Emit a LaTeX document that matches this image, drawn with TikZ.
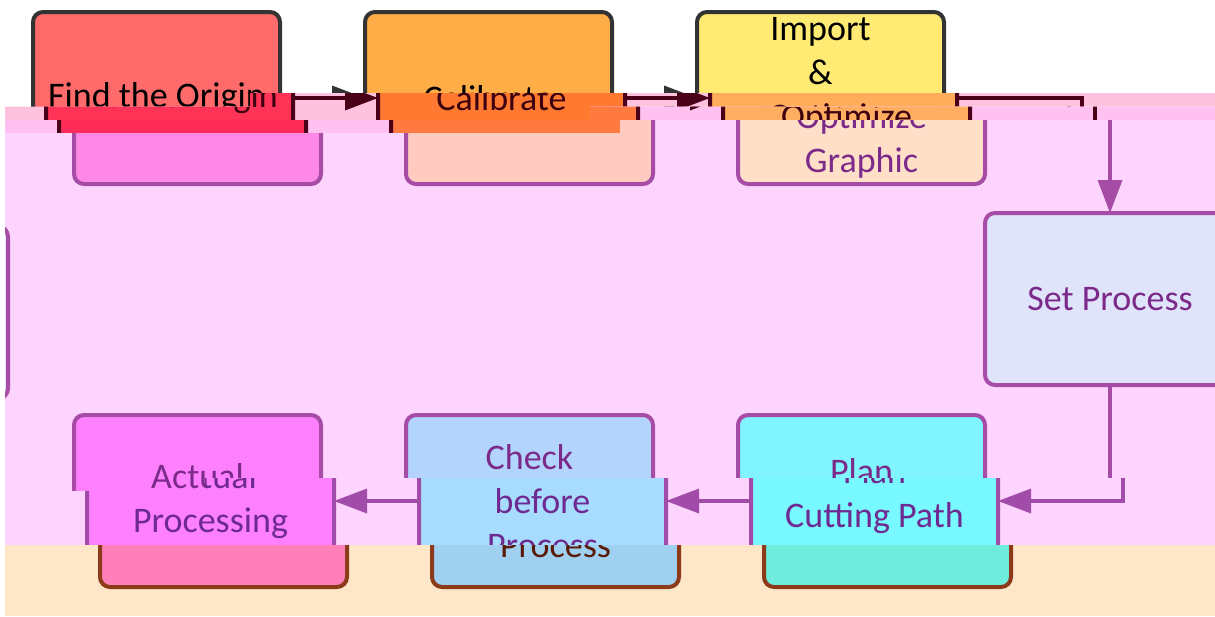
\documentclass[tikz,border=0pt]{standalone}
\usepackage{fontspec}
\setmainfont{Carlito}
\usetikzlibrary{arrows.meta}

% palettes: O original, B, C, E, F, G glitch bands
\newcommand\mkpal[9]{%
  \definecolor{#1bg}{HTML}{#2}\definecolor{#1find}{HTML}{#3}%
  \definecolor{#1cal}{HTML}{#4}\definecolor{#1imp}{HTML}{#5}%
  \definecolor{#1set}{HTML}{#6}\definecolor{#1act}{HTML}{#7}%
  \definecolor{#1chk}{HTML}{#8}\definecolor{#1plan}{HTML}{#9}}
\mkpal{O}{FFFFFF}{FF6B6B}{FFAE47}{FFEB74}{E0E4FB}{FF80FF}{B3D4FD}{80F4FF}
\mkpal{B}{FFC2DE}{FF3355}{FF7A30}{FFAD5A}{E0E4FB}{FF80FF}{B3D4FD}{80F4FF}
\mkpal{C}{FFC2F0}{FF2C5A}{FF7A40}{FFAD60}{E0E4FB}{FF80FF}{B3D4FD}{80F4FF}
\mkpal{E}{FDD4FD}{FF88E6}{FFCBC0}{FFDFC8}{E0E4FB}{FF80FF}{B3D4FD}{80F4FF}
\mkpal{F}{FDD4FD}{FF88E6}{FFCBC0}{FFDFC8}{E0E4FB}{FF80FF}{A8DCFF}{78F8FF}
\mkpal{G}{FEE6C8}{FF88B8}{FFCBB0}{FFDFB8}{E0E4EB}{FF80B8}{A0D0F0}{6EECDC}
\definecolor{Oline}{HTML}{333333}\definecolor{Otext}{HTML}{000000}
\definecolor{Bline}{HTML}{4A0018}\definecolor{Btext}{HTML}{3D0010}
\definecolor{Cline}{HTML}{4A0018}\definecolor{Ctext}{HTML}{3D0010}
\definecolor{Eline}{HTML}{A64CA6}\definecolor{Etext}{HTML}{7B2A8A}
\definecolor{Fline}{HTML}{A04CA8}\definecolor{Ftext}{HTML}{6E2A90}
\definecolor{Gline}{HTML}{8B3A1A}\definecolor{Gtext}{HTML}{5A1A08}

\tikzset{
  box/.style={rectangle, rounded corners=10pt, line width=4pt, inner sep=0pt,
    outer sep=0pt, minimum width=247pt, minimum height=172pt, align=center,
    font=\fontsize{36}{44}\selectfont},
  conn/.style={line width=3.5pt, -{Triangle[length=33pt,width=24pt]}}
}

\newcommand\flowdiag[3]{%
\begin{scope}[shift={(#1,#2)}]
  \node[box,fill=#3find,draw=#3line,text=#3text] (find) at (156.5,98) {Find the Origin};
  \node[box,fill=#3cal,draw=#3line,text=#3text] (cal) at (488.5,98) {Calibrate};
  \node[box,fill=#3imp,draw=#3line,text=#3text] (imp) at (820.5,98) {Import\\\&\\Optimize\\Graphic};
  \node[box,minimum width=250pt,fill=#3set,draw=#3line,text=#3text] (setp) at (1069,299) {Set Process};
  \node[box,fill=#3act,draw=#3line,text=#3text] (act) at (156.5,501) {Actual\\Processing};
  \node[box,fill=#3chk,draw=#3line,text=#3text] (chk) at (488.5,501) {Check\\before\\Process};
  \node[box,fill=#3plan,draw=#3line,text=#3text,text depth=17pt] (plan) at (820.5,501) {Plan\\Cutting Path};
  \draw[conn,color=#3line] (find) -- (cal);
  \draw[conn,color=#3line] (cal) -- (imp);
  \draw[conn,color=#3line] (imp.east) -| (setp.north);
  \draw[conn,color=#3line] (setp.south) |- (plan.east);
  \draw[conn,color=#3line] (plan) -- (chk);
  \draw[conn,color=#3line] (chk) -- (act);
\end{scope}}

\begin{document}
\begin{tikzpicture}[x=1pt,y=-1pt]
  \fill[white] (0,0) rectangle (1215,616);
  % original (undamaged) picture
  \flowdiag{0}{0}{O}
  % band B
  \begin{scope}
    \clip (250,93) -- (1215,93) -- (1215,106.5) -- (590,106.5) -- (590,120) -- (5,120) -- (5,106.5) -- (250,106.5) -- cycle;
    \fill[Bbg] (0,90) rectangle (1215,125);
    \flowdiag{13}{0}{B}
  \end{scope}
  % band C
  \begin{scope}
    \clip (590,106.5) -- (1215,106.5) -- (1215,120) -- (620,120) -- (620,133) -- (5,133) -- (5,120) -- (590,120) -- cycle;
    \fill[Cbg] (0,100) rectangle (1215,140);
    \flowdiag{26}{0}{C}
  \end{scope}
  % band E
  \begin{scope}
    \clip (620,120) -- (1215,120) -- (1215,478) -- (205,478) -- (205,491) -- (5,491) -- (5,133) -- (620,133) -- cycle;
    \fill[Ebg] (0,115) rectangle (1215,495);
    \flowdiag{41}{0}{E}
    % wrapped right edge of the Set Process box
    \draw[Eline, fill=Eset, line width=4pt, rounded corners=10pt] (-240,226.5) rectangle (8,398.5);
  \end{scope}
  % band F
  \begin{scope}
    \clip (205,478) -- (1215,478) -- (1215,545) -- (5,545) -- (5,491) -- (205,491) -- cycle;
    \fill[Fbg] (0,470) rectangle (1215,550);
    \flowdiag{54}{0}{F}
  \end{scope}
  % band G
  \begin{scope}
    \clip (5,545) rectangle (1215,616);
    \fill[Gbg] (0,540) rectangle (1215,616);
    \flowdiag{67}{0}{G}
  \end{scope}
  \pgfresetboundingbox
  \useasboundingbox (0,0) rectangle (1215,616);
\end{tikzpicture}
\end{document}
